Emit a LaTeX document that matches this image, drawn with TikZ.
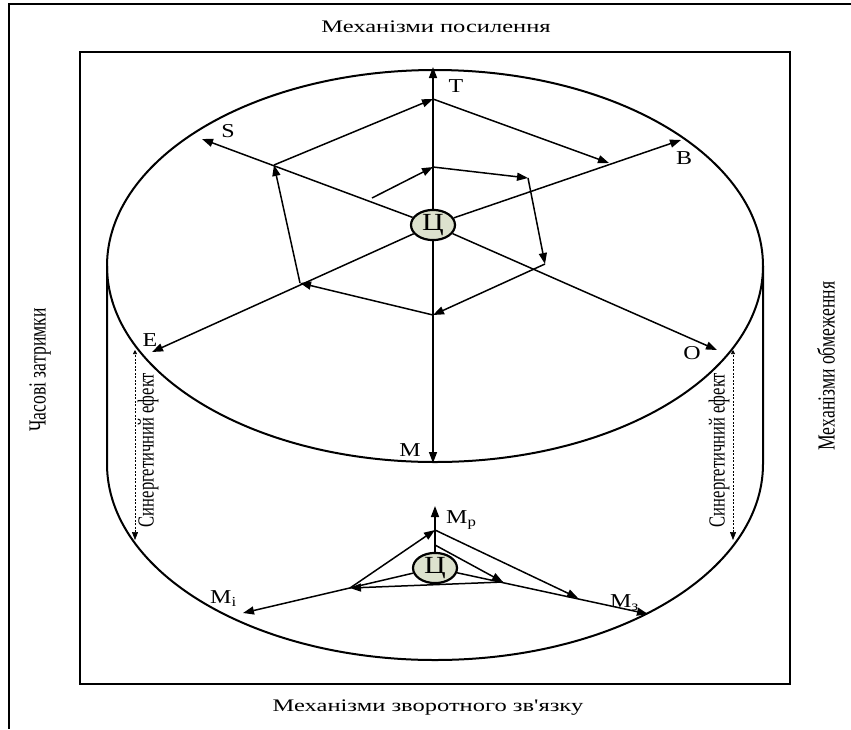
\documentclass[tikz,border=0pt]{standalone}
\usepackage{graphicx}
\usepackage{fontspec}
\setmainfont{Liberation Serif}
\usetikzlibrary{arrows.meta,shapes.geometric}
\definecolor{cfill}{RGB}{221,226,206}
\newcommand{\hsq}[1]{\scalebox{1}[0.72]{#1}}
\newcommand{\lsq}[1]{\scalebox{1}[0.82]{#1}}
\newcommand{\vsq}[1]{\scalebox{0.72}[1]{#1}}
\begin{document}
\begin{tikzpicture}[x=1pt,y=-1pt,
  tip/.style={-{Triangle[length=11pt,width=8pt]}},
  ax/.style={line width=1.5pt,tip},
  cnode/.style={ellipse,draw,line width=2.2pt,fill=cfill,minimum width=44pt,minimum height=28pt,inner sep=0pt,font=\fontsize{30}{30}\selectfont},
  lbl/.style={inner sep=0pt,font=\fontsize{24}{24}\selectfont},
  side/.style={inner sep=0pt,font=\fontsize{24.5}{24.5}\selectfont},
  syn/.style={inner sep=0pt,rotate=90,font=\fontsize{23}{23}\selectfont},
  synline/.style={line width=0.6pt,dash pattern=on 2pt off 1.5pt,{Triangle[length=8pt,width=6pt]}-{Triangle[length=4pt,width=4pt]}}
]
\useasboundingbox (0,0) rectangle (851,729);
% frames
\draw[line width=1.8pt] (851,4) -- (9,4) -- (9,729);
\draw[line width=2pt] (80,52) rectangle (790,684);
% side texts
\node[side] (t1) at (436,27) {\hsq{Механізми посилення}};
\node[side] (t2) at (428,708) {\hsq{Механізми зворотного зв\textquotesingle язку}};
\node[side,rotate=90] (t3) at (40,370) {\vsq{Часові затримки}};
\node[side,rotate=90] (t4) at (826,366) {\vsq{Механізми обмеження}};
% cylinder
\draw[line width=2pt] (435,266) ellipse [x radius=328pt, y radius=196pt];
\draw[line width=2pt] (107,266) -- (107,464) arc[start angle=180,end angle=360,x radius=328pt,y radius=196pt] -- (763,266);
% top disk
\node[cnode] (c) at (433,225) {\lsq{Ц}};
\coordinate (T) at (433,67);
\coordinate (S) at (202,139);
\coordinate (B) at (681,140);
\coordinate (E) at (152,352);
\coordinate (O) at (717,350);
\coordinate (M) at (433,463);
\draw[ax] (c) -- (T);
\draw[ax] (c) -- (S);
\draw[ax] (c) -- (B);
\draw[ax] (c) -- (E);
\draw[ax] (c) -- (O);
\draw[ax] (c) -- (M);
\node[lbl] (lT) at (456,86) {\lsq{Т}};
\node[lbl] (lS) at (228,131) {\lsq{S}};
\node[lbl] (lB) at (684,158) {\lsq{В}};
\node[lbl] (lE) at (150,340) {\lsq{Е}};
\node[lbl] (lO) at (692,353) {\lsq{О}};
\node[lbl] (lM) at (410,450) {\lsq{М}};
% spiral
\coordinate (p1) at (372,198);
\coordinate (p2) at (433,167);
\coordinate (p3) at (528,178);
\coordinate (p4) at (545,264);
\coordinate (p5) at (433,315);
\coordinate (p6) at (300,283);
\coordinate (p7) at (274,165);
\coordinate (p8) at (433,99);
\coordinate (p9) at (609,163);
\draw[ax] (p1) -- (p2);
\draw[ax] (p2) -- (p3);
\draw[ax] (p3) -- (p4);
\draw[ax] (p4) -- (p5);
\draw[ax] (p5) -- (p6);
\draw[ax] (p6) -- (p7);
\draw[ax] (p7) -- (p8);
\draw[ax] (p8) -- (p9);
% bottom disk
\node[cnode] (c2) at (435,568) {\lsq{Ц}};
\coordinate (Mr) at (435,506);
\coordinate (Mi) at (243,613);
\coordinate (Mz) at (648,614);
\draw[ax] (c2) -- (Mr);
\draw[ax] (c2) -- (Mi);
\draw[ax] (c2) -- (Mz);
\coordinate (q0) at (435,545);
\coordinate (q1) at (503,582);
\coordinate (q2) at (350,588);
\coordinate (q3) at (435,530);
\coordinate (q4) at (578,598);
\draw[ax] (q0) -- (q1);
\draw[ax] (q1) -- (q2);
\draw[ax] (q2) -- (q3);
\draw[ax] (q3) -- (q4);
\node[lbl,anchor=west] (lMr) at (446,520) {\lsq{М\textsubscript{р}}};
\node[lbl,anchor=west] (lMi) at (210,599) {\lsq{М\textsubscript{і}}};
\node[lbl,anchor=west] (lMz) at (610,603) {\lsq{М\textsubscript{з}}};
% synergy
\coordinate (s1a) at (135,540);
\coordinate (s1b) at (135,350);
\coordinate (s2a) at (733,540);
\coordinate (s2b) at (733,350);
\draw[synline] (s1a) -- (s1b);
\draw[synline] (s2a) -- (s2b);
\node[syn] (sy1) at (148,450) {\vsq{Синергетичний ефект}};
\node[syn] (sy2) at (719,450) {\vsq{Синергетичний ефект}};
\end{tikzpicture}
\end{document}
